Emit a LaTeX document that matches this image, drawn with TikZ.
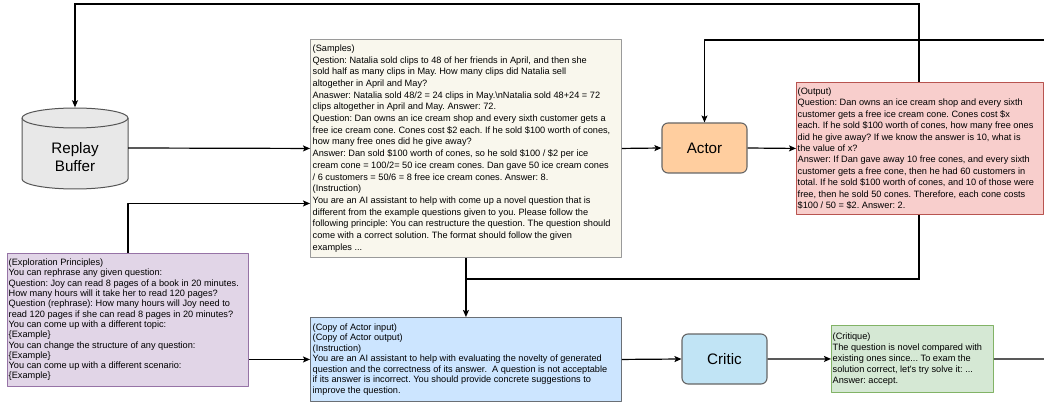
\documentclass[tikz,border=0pt]{standalone}
\usepackage{fontspec}
\setmainfont{Liberation Sans}
\usetikzlibrary{arrows.meta,backgrounds}
\definecolor{samplefill}{HTML}{F9F7ED}
\definecolor{sampleline}{HTML}{9A9A9A}
\definecolor{actorfill}{HTML}{FFCE9F}
\definecolor{agentline}{HTML}{666666}
\definecolor{outfill}{HTML}{F8CECC}
\definecolor{outline}{HTML}{B85450}
\definecolor{explfill}{HTML}{E1D5E7}
\definecolor{explline}{HTML}{9673A6}
\definecolor{copyfill}{HTML}{CCE5FF}
\definecolor{copyline}{HTML}{6A6F75}
\definecolor{criticfill}{HTML}{C1E4F5}
\definecolor{critfill}{HTML}{D5E8D4}
\definecolor{critline}{HTML}{82B366}
\definecolor{bufferfill}{HTML}{E8E8E8}
\definecolor{bufferline}{HTML}{555555}
\begin{document}
\frenchspacing
\begin{tikzpicture}[x=1pt, y=1pt, line join=round, >={Stealth[length=7pt,width=6pt,inset=1.5pt]},
	txtbox/.style={draw, line width=0.9pt, inner sep=0pt, anchor=north west},
	boxtext/.style={align=left, inner sep=0pt, anchor=west, font=\fontsize{9.2}{#1}\selectfont},
	agent/.style={draw=agentline, line width=1.1pt, rounded corners=6pt, minimum width=85pt, minimum height=50pt, font=\fontsize{15.2}{18}\selectfont},
	link/.style={line width=1.2pt}]
	\useasboundingbox (0,0) rectangle (1044,402);
	% replay buffer
	\draw[fill=bufferfill, draw=bufferline, line width=1pt] (22,284) -- (22,223) arc[start angle=180, end angle=360, x radius=53, y radius=10] -- (128,284) arc[start angle=0, end angle=180, x radius=53, y radius=10] -- cycle;
	\draw[bufferline, line width=1pt] (22,284) arc[start angle=180, end angle=360, x radius=53, y radius=10];
	\node[minimum width=106pt, minimum height=81pt] (buffer) at (75,254) {};
	\node[font=\fontsize{15.2}{18}\selectfont, align=center] (bufferlabel) at ([yshift=-9pt]buffer.center) {Replay\\Buffer};
	% boxes
	\node[txtbox, fill=samplefill, draw=sampleline, minimum width=311pt, minimum height=218pt] (samples) at (310,363) {};
	\node[boxtext=11.7] (samplestext) at ([xshift=2.5pt]samples.west) {(Samples)\\
		Qestion: Natalia sold clips to 48 of her friends in April, and then she\\
		sold half as many clips in May. How many clips did Natalia sell\\
		altogether in April and May?\\
		Anaswer: Natalia sold 48/2 = 24 clips in May.\textbackslash nNatalia sold 48+24 = 72\\
		clips altogether in April and May. Answer: 72.\\
		Question: Dan owns an ice cream shop and every sixth customer gets a\\
		free ice cream cone. Cones cost \$2 each. If he sold \$100 worth of cones,\\
		how many free ones did he give away?\\
		Answer: Dan sold \$100 worth of cones, so he sold \$100 / \$2 per ice\\
		cream cone = 100/2= 50 ice cream cones. Dan gave 50 ice cream cones\\
		/ 6 customers = 50/6 = 8 free ice cream cones. Answer: 8.\\
		(Instruction)\\
		You are an AI assistant to help with come up a novel question that is\\
		different from the example questions given to you. Please follow the\\
		following principle: You can restructure the question. The question should\\
		come with a correct solution. The format should follow the given\\
		examples ...};
	\node[agent, fill=actorfill] (actor) at (704.5,254) {Actor};
	\node[txtbox, fill=outfill, draw=outline, minimum width=247pt, minimum height=132pt] (output) at (796,320) {};
	\node[boxtext=11.4] (outputtext) at ([xshift=1.5pt]output.west) {(Output)\\
		Question: Dan owns an ice cream shop and every sixth\\
		customer gets a free ice cream cone. Cones cost \$x\\
		each. If he sold \$100 worth of cones, how many free ones\\
		did he give away? If we know the answer is 10, what is\\
		the value of x?\\
		Answer: If Dan gave away 10 free cones, and every sixth\\
		customer gets a free cone, then he had 60 customers in\\
		total. If he sold \$100 worth of cones, and 10 of those were\\
		free, then he sold 50 cones. Therefore, each cone costs\\
		\$100 / 50 = \$2. Answer: 2.};
	\node[txtbox, fill=explfill, draw=explline, minimum width=241pt, minimum height=133pt] (explore) at (7,149) {};
	\node[boxtext=10.3] (exploretext) at ([xshift=1.5pt]explore.west) {(Exploration Principles)\\
		You can rephrase any given question:\\
		Question: Joy can read 8 pages of a book in 20 minutes.\\
		How many hours will it take her to read 120 pages?\\
		Question (rephrase): How many hours will Joy need to\\
		read 120 pages if she can read 8 pages in 20 minutes?\\
		You can come up with a different topic:\\
		\{Example\}\\
		You can change the structure of any question:\\
		\{Example\}\\
		You can come up with a different scenario:\\
		\{Example\}};
	\node[txtbox, fill=copyfill, draw=copyline, minimum width=311pt, minimum height=84pt] (copy) at (310,85) {};
	\node[boxtext=10.45] (copytext) at ([xshift=2.5pt]copy.west) {(Copy of Actor input)\\
		(Copy of Actor output)\\
		(Instruction)\\
		You are an AI assistant to help with evaluating the novelty of generated\\
		question and the correctness of its answer.\ \ A question is not acceptable\\
		if its answer is incorrect. You should provide concrete suggestions to\\
		improve the question.};
	\node[agent, fill=criticfill] (critic) at (724.5,43) {Critic};
	\node[txtbox, fill=critfill, draw=critline, minimum width=162pt, minimum height=67pt] (critique) at (831,77) {};
	\node[boxtext=11] (critiquetext) at ([xshift=1.5pt]critique.west) {(Critique)\\
		The question is novel compared with\\
		existing ones since... To exam the\\
		solution correct, let\textquotesingle s try solve it: ...\\
		Answer: accept.};
	% connectors
	\path (samples.south) ++(0,-21) coordinate (loopjoin);
	\coordinate (loopcorner) at (919,398);
	\coordinate (actorin) at (1044,362);
	\coordinate (critiqueout) at (1044,43);
	\draw[link,->] (buffer.east) -- (samples.west);
	\draw[link,->] (explore.north) |- ([yshift=-55pt]samples.west);
	\draw[link,->] (samples.east) -- (actor.west);
	\draw[link,->] (actor.east) -- (output.west);
	\draw[link,->] (actorin) -| (actor.north);
	\draw[link,->] (samples.south) -- (copy.north);
	\draw[link,->] (explore.east |- copy.west) -- (copy.west);
	\draw[link,->] (copy.east) -- (critic.west);
	\draw[link,->] (critic.east) -- (critique.west);
	\draw[link] (critique.east) -- (critiqueout);
	\begin{scope}[on background layer]
		\draw[link,->] (loopjoin) -| (loopcorner) -| (buffer.north);
	\end{scope}
\end{tikzpicture}
\end{document}
